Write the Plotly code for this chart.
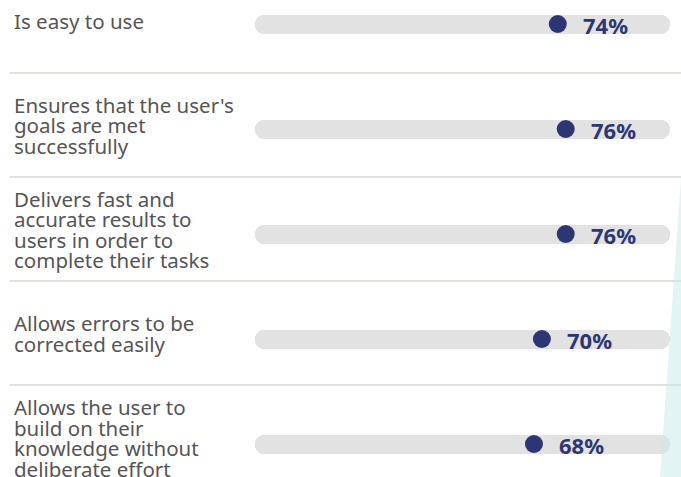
import plotly.graph_objects as go

# ---- data ----
categories = [
    ["Is easy to use"],
    ["Ensures that the user's", "goals are met", "successfully"],
    ["Delivers fast and", "accurate results to", "users in order to", "complete their tasks"],
    ["Allows errors to be", "corrected easily"],
    ["Allows the user to", "build on their", "knowledge without", "deliberate effort"],
]
values = [74, 76, 76, 70, 68]
value_labels = ["74%", "76%", "76%", "70%", "68%"]

# ---- style ----
W, H = 681, 477
NAVY = "#2d3675"
TRACK = "#e2e2e2"
TEXT = "#555555"
TRACK_START, TRACK_END = -2.3, 102.3
X0_PX, PX_PER_UNIT = 264, 3.97
ROW0_PX, ROW_PX = 24, 105
LINE_PX = 20.5

rows = list(range(len(values)))
x_range = [-X0_PX / PX_PER_UNIT, (W - X0_PX) / PX_PER_UNIT]
y_range = [(H - ROW0_PX) / ROW_PX, -ROW0_PX / ROW_PX]

fig = go.Figure()

fig.add_trace(go.Bar(
    y=rows, x=[TRACK_END - TRACK_START] * len(rows), base=[TRACK_START] * len(rows),
    orientation="h", width=19 / ROW_PX,
    marker=dict(color=TRACK, line=dict(width=0), cornerradius=10),
    hoverinfo="skip",
))

fig.add_trace(go.Scatter(
    x=values, y=rows, mode="markers",
    marker=dict(size=18, color=NAVY, line=dict(width=0)),
    hoverinfo="skip",
))

annotations = []
for i, (lines, v, lab) in enumerate(zip(categories, values, value_labels)):
    n = len(lines)
    for k, line in enumerate(lines):
        annotations.append(dict(
            x=12 / W, xref="paper", xanchor="left",
            y=i, yref="y", yanchor="middle",
            yshift=3 + 0.8 * i - (k - (n - 1) / 2) * LINE_PX,
            text=line, showarrow=False,
            font=dict(family="Noto Sans", size=20.5, color=TEXT),
        ))
    annotations.append(dict(
        x=v, xref="x", xanchor="left", xshift=23,
        y=i, yref="y", yanchor="middle", yshift=-1,
        text="<b>%s</b>" % lab, showarrow=False,
        font=dict(family="Noto Sans", size=22, color=NAVY),
    ))

shapes = []
for i in rows[:-1]:
    sep = i + 0.467 - 0.01 * i
    shapes.append(dict(
        type="line", xref="paper", x0=10 / W, x1=1,
        yref="y", y0=sep, y1=sep,
        line=dict(color="#d6d6d2", width=1.5), layer="below",
    ))

# decorative teal wedge on the right edge
shapes.append(dict(
    type="path", xref="paper", yref="paper",
    path="M %f %f L 1 %f L 1 0 L %f 0 Z" % (681 / W, 1 - 178 / H, 1 - 178 / H, 660 / W),
    fillcolor="#c5ebe8", opacity=0.5, line=dict(width=0), layer="above",
))

fig.update_layout(
    width=W, height=H,
    margin=dict(l=0, r=0, t=0, b=0),
    paper_bgcolor="white", plot_bgcolor="white",
    showlegend=False,
    xaxis=dict(range=x_range, visible=False, fixedrange=True),
    yaxis=dict(range=y_range, visible=False, fixedrange=True),
    annotations=annotations, shapes=shapes,
    bargap=0,
)

fig.write_html("out.html")
